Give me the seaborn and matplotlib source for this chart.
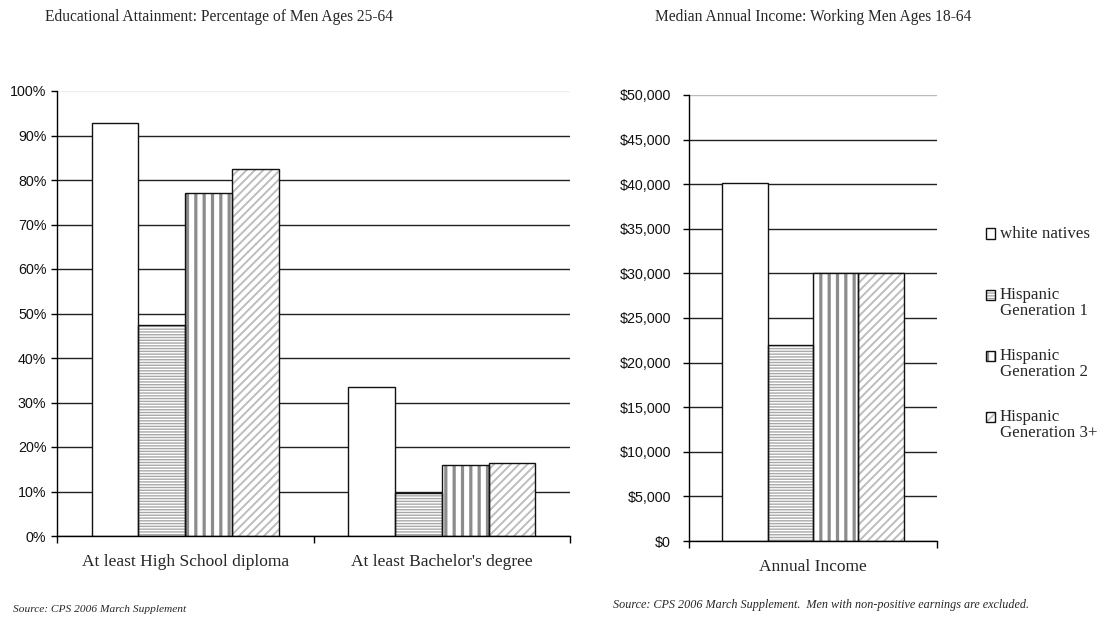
import numpy as np
import pandas as pd
import matplotlib.pyplot as plt
import seaborn as sns
from matplotlib.patches import Rectangle
from matplotlib.legend_handler import HandlerBase
from matplotlib.ticker import PercentFormatter, FuncFormatter

sns.set_style("ticks")
plt.rcParams['font.family'] = ['Liberation Serif', 'DejaVu Serif']
plt.rcParams['hatch.linewidth'] = 1.2

groups = ["white natives", "Hispanic\nGeneration 1", "Hispanic\nGeneration 2", "Hispanic\nGeneration 3+"]
edu_cats = ["At least High School diploma", "At least Bachelor's degree"]
hs_pct = [92.7, 47.4, 77.1, 82.5]
ba_pct = [33.5, 9.7, 16.0, 16.4]
income_cats = ["Annual Income"]
income = [40100, 22000, 30000, 30000]

hatches = ["", "------", "||", "////"]
hatch_cols = ["white", "#a8a8a8", "#8c8c8c", "#bdbdbd"]
hatch_lws = [1.0, 1.0, 2.3, 1.4]

edu = pd.DataFrame({
    "cat": [edu_cats[0]] * 4 + [edu_cats[1]] * 4,
    "group": groups * 2,
    "pct": hs_pct + ba_pct,
})
inc = pd.DataFrame({"cat": income_cats * 4, "group": groups, "income": income})

fig = plt.figure(figsize=(11.1, 6.18), dpi=100)
ax1 = fig.add_axes([57 / 1110, 1 - 536 / 618, 513 / 1110, 445 / 618])
ax2 = fig.add_axes([689 / 1110, 1 - 541 / 618, 248 / 1110, 446 / 618])

pal = ["white"] * 4
sns.barplot(data=edu, x="cat", y="pct", hue="group", hue_order=groups, palette=pal,
            saturation=1, width=0.73, ax=ax1, legend=False)
sns.barplot(data=inc, x="cat", y="income", hue="group", hue_order=groups, palette=pal,
            saturation=1, width=0.73, ax=ax2, legend=False)


def hatch_patch(p, h, hc, hlw):
    p.set_hatch(h)
    p.set_edgecolor(hc)
    p.set_linewidth(0)
    if hasattr(p, "set_hatch_linewidth"):
        p.set_hatch_linewidth(hlw)


def style_bars(ax):
    for cont, h, hc, hlw in zip(ax.containers, hatches, hatch_cols, hatch_lws):
        for p in cont:
            hatch_patch(p, h, hc, hlw)
            ax.add_patch(Rectangle(p.get_xy(), p.get_width(), p.get_height(), fill=False,
                                   edgecolor="#111111", lw=1.0, zorder=p.get_zorder() + 0.1))


def style_axes(ax, ylabelpad):
    ax.set_axisbelow(True)
    sns.despine(ax=ax)
    for s in ["left", "bottom"]:
        ax.spines[s].set_color("black")
        ax.spines[s].set_linewidth(1.0)
    ax.set_xlabel("")
    ax.set_ylabel("")
    ax.yaxis.grid(True, color="#222222", lw=1.0)
    ax.tick_params(axis="y", direction="out", length=4, width=1, color="black",
                   pad=ylabelpad, labelsize=10.3, labelcolor="#111111",
                   labelfontfamily="Liberation Sans")
    ax.tick_params(axis="x", which="major", length=0, pad=13, labelsize=12.5)
    ax.tick_params(axis="x", which="minor", direction="out", length=5, width=1, color="black")


style_bars(ax1)
style_bars(ax2)

ax1.set_ylim(0, 100)
ax1.set_yticks(np.arange(0, 101, 10))
ax1.yaxis.set_major_formatter(PercentFormatter(decimals=0))
ax1.set_xlim(-0.5, 1.5)
ax1.set_xticks([-0.5, 0.5, 1.5], minor=True)
style_axes(ax1, 3.6)
ax1.yaxis.get_gridlines()[-1].set_color("#eeeeee")

ax2.set_ylim(0, 50000)
ax2.set_yticks(np.arange(0, 50001, 5000))
ax2.yaxis.set_major_formatter(FuncFormatter(lambda v, _: f"${v:,.0f}"))
ax2.set_xlim(-0.5, 0.5)
ax2.set_xticks([-0.5, 0.5], minor=True)
style_axes(ax2, 9)
ax2.yaxis.get_gridlines()[-1].set_color("#bbbbbb")


class SquareHandler(HandlerBase):
    # hatched square outlined in black, lifted to sit beside the first text line
    def __init__(self, h, hc, hlw, lift):
        super().__init__()
        self.h, self.hc, self.hlw, self.lift = h, hc, hlw, lift

    def create_artists(self, legend, orig_handle, xdescent, ydescent, width, height,
                       fontsize, trans):
        y0 = -ydescent + self.lift * fontsize
        fillp = Rectangle((-xdescent, y0), width, height, facecolor="white", transform=trans)
        hatch_patch(fillp, self.h, self.hc, self.hlw)
        edgep = Rectangle((-xdescent, y0), width, height, fill=False, edgecolor="#111111",
                          lw=1.0, transform=trans)
        return [fillp, edgep]


handles = [Rectangle((0, 0), 1, 1) for _ in groups]
hmap = {hd: SquareHandler(h, hc, hlw, 0.5)
        for hd, h, hc, hlw in zip(handles, hatches, hatch_cols, hatch_lws)}
leg_labels = [g if "\n" in g else g + "\n " for g in groups]
leg = fig.legend(handles, leg_labels, handler_map=hmap,
                 loc="upper left", bbox_to_anchor=(986 / 1110, 1 - 226 / 618), frameon=False,
                 fontsize=12.2, handlelength=0.55, handleheight=0.55, handletextpad=0.25,
                 labelspacing=1.72, borderpad=0, borderaxespad=0)
for t in leg.get_texts():
    t.set_linespacing(1.0)

fig.text(45 / 1110, 1 - 17 / 618, "Educational Attainment: Percentage of Men Ages 25-64",
         fontsize=11.2, ha="left", va="center")
fig.text(655 / 1110, 1 - 17 / 618, "Median Annual Income: Working Men Ages 18-64",
         fontsize=11.2, ha="left", va="center")
fig.text(13 / 1110, 1 - 610 / 618, "Source: CPS 2006 March Supplement",
         fontsize=8.2, style="italic", ha="left", va="center")
fig.text(613 / 1110, 1 - 605 / 618,
         "Source: CPS 2006 March Supplement.  Men with non-positive earnings are excluded.",
         fontsize=8.7, style="italic", ha="left", va="center")

fig.savefig("out.png", dpi=100)
